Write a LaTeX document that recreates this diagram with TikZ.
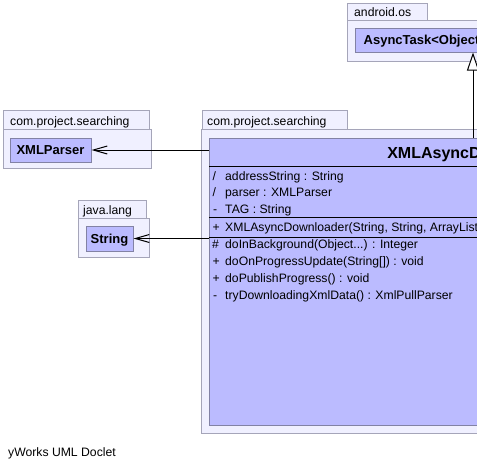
\documentclass[tikz,border=0pt]{standalone}
\usepackage{fontspec}
\setmainfont{Liberation Sans}
\usetikzlibrary{arrows.meta}

\definecolor{pkgfill}{RGB}{240,240,255}
\definecolor{pkgline}{RGB}{165,165,185}
\definecolor{clsfill}{RGB}{187,187,255}
\definecolor{clsline}{RGB}{130,130,165}

\tikzset{
	pkg/.style={draw=pkgline, fill=pkgfill, line width=1pt},
	cls/.style={draw=clsline, fill=clsfill, line width=1pt, inner sep=0pt},
	clsname/.style={cls, text height=9.4pt, text depth=0pt, font=\bfseries\fontsize{13}{15}\selectfont},
	txt/.style={anchor=base west, inner sep=0pt, font=\fontsize{12.2}{14}\selectfont},
	assoc/.style={-{Straight Barb[length=14pt, width=8pt]}, line width=1pt},
}

\begin{document}
\begin{tikzpicture}[x=1pt, y=-1pt]
	\useasboundingbox (0,0) rectangle (477,471);
	\clip (0,0) rectangle (477,471);
		    \begin{scope}
					\draw[pkg] (347,3) rectangle (427,20); % android.os
					\draw[pkg] (347,20) rectangle (600,61);
					\node[txt] (osname) at (354,16.5) {android.os};
					\node[clsname, minimum width=236pt, minimum height=24pt] (task) at (473,40) {AsyncTask<Object, String, Integer>};

					\draw[pkg] (3,110) rectangle (149,129); % com.project.searching
					\draw[pkg] (3,129) rectangle (151,168);
					\node[txt] (searchname) at (10,125.5) {com.project.searching};
					\node[clsname, minimum width=81pt, minimum height=24pt] (parser) at (50.5,150) {XMLParser};

					\draw[pkg] (78,200) rectangle (146,218); % java.lang
					\draw[pkg] (78,218) rectangle (149,257);
					\node[txt] (langname) at (83,214.5) {java.lang};
					\node[clsname, minimum width=47pt, minimum height=25pt] (string) at (109.5,238.5) {String};

					\draw[pkg] (202,110) rectangle (347,129); % com.project.searching (destra)
					\draw[pkg] (201,129) rectangle (747,433);
					\node[txt] (mainname) at (207,125.5) {com.project.searching};
					\node[cls, minimum width=530pt, minimum height=287pt] (downloader) at (474,281.5) {};
					\node[anchor=base, inner sep=0pt, font=\bfseries\fontsize{16}{18}\selectfont] (title) at (474,158.5) {XMLAsyncDownloader};
					\draw[line width=1pt] (209,166) -- (739,166);
					\draw[line width=1pt] (209,217) -- (739,217);
					\draw[line width=1pt] (209,237) -- (739,237);

					\node[txt] (m1) at (212.5,180) {/};
					\node[txt] (a1) at (225,180) {addressString : String};
					\node[txt] (m2) at (212.5,196.5) {/};
					\node[txt] (a2) at (225,196.5) {parser : XMLParser};
					\node[txt] (m3) at (213,213) {-};
					\node[txt] (a3) at (225,213) {TAG : String};
					\node[txt] (m4) at (212.5,231) {+};
					\node[txt] (c1) at (225,231) {XMLAsyncDownloader(String, String, ArrayList<String>)};
					\node[txt] (m5) at (212,248) {\#};
					\node[txt] (o1) at (225,248) {doInBackground(Object...) : Integer};
					\node[txt] (m6) at (212.5,265) {+};
					\node[txt] (o2) at (225,265) {doOnProgressUpdate(String[]) : void};
					\node[txt] (m7) at (212.5,282) {+};
					\node[txt] (o3) at (225,282) {doPublishProgress() : void};
					\node[txt] (m8) at (213,299) {-};
					\node[txt] (o4) at (225,299) {tryDownloadingXmlData() : XmlPullParser};

					\draw[line width=1pt, -{Triangle[length=18pt, width=12pt, fill=white]}] (downloader.north -| task.south) -- (task.south); % generalizzazione
					\draw[assoc] (downloader.west |- parser.east) -- (parser.east); % verso XMLParser
					\draw[assoc] (downloader.west |- string.east) -- (string.east); % verso String

					\node[txt] (footer) at (8,456.5) {yWorks UML Doclet};
		    \end{scope}
		  \end{tikzpicture}
\end{document}
